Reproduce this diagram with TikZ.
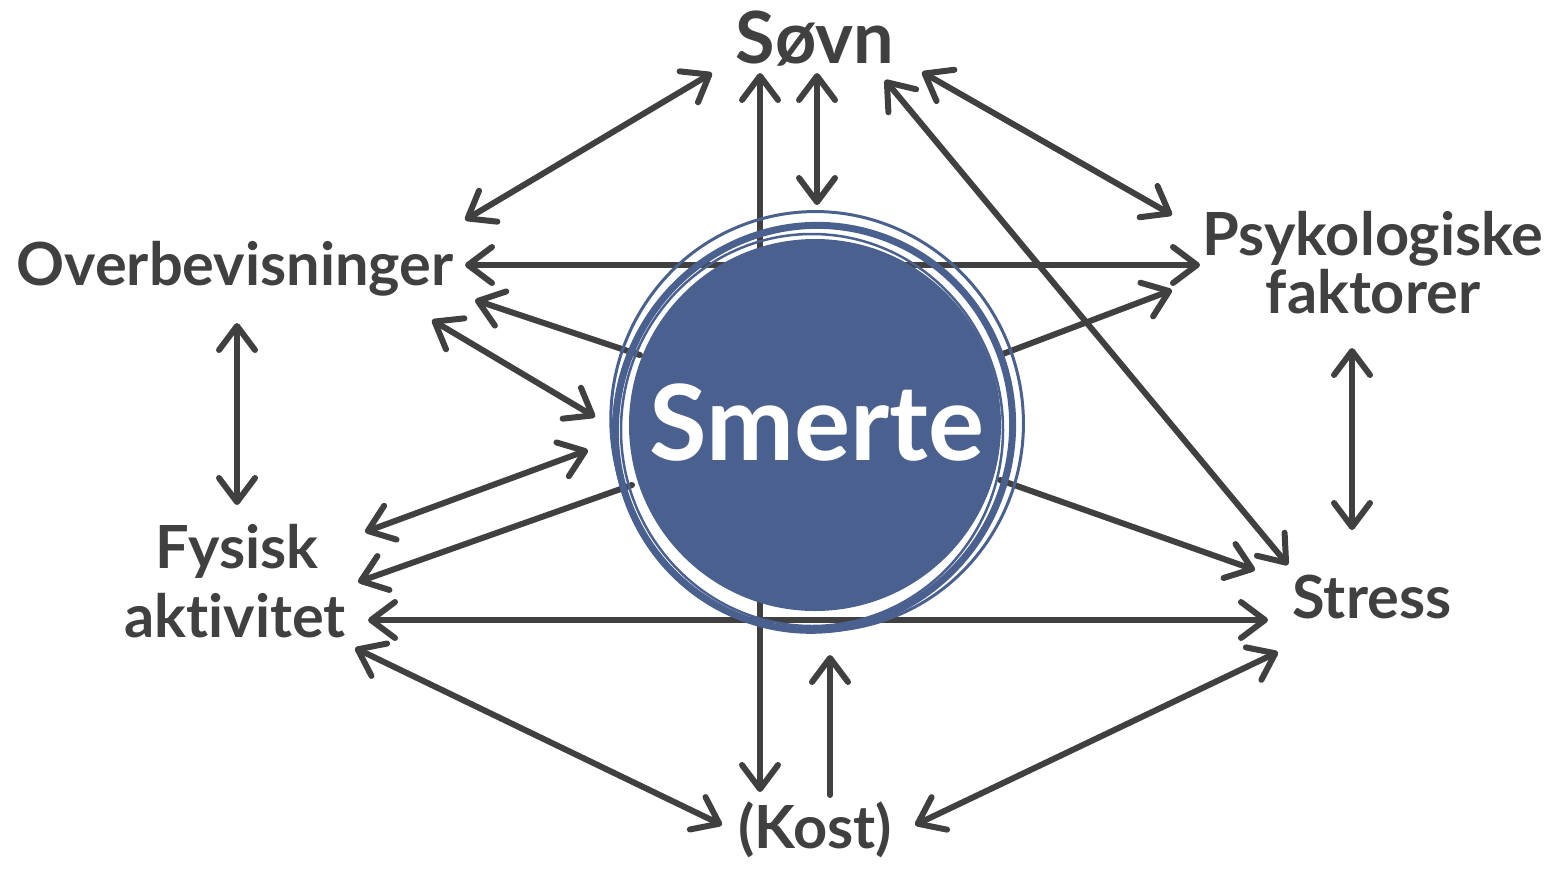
\documentclass[tikz,border=0pt]{standalone}
\usepackage{fontspec}
\setmainfont{Lato}[Ligatures=NoCommon]
\usetikzlibrary{arrows.meta,calc}
\definecolor{ink}{HTML}{404040}
\definecolor{smblue}{HTML}{4A6190}
\begin{document}
\begin{tikzpicture}[x=1pt,y=-1pt,
  lbl/.style={text=ink,font=\bfseries\fontsize{59.5}{62}\selectfont,inner sep=0pt,anchor=base},
  barb/.tip={Straight Barb[length=24pt,width=36pt,round]},
  link/.style={draw=ink,line width=6pt,line cap=round},
  both/.style={link,barb-barb},
  fwd/.style={link,-barb},
  ring/.style={draw=smblue}]
\useasboundingbox (0,0) rectangle (1553,871);
% labels
\node[lbl,font=\bfseries\fontsize{72}{76}\selectfont] (sovn) at (815,63) {Søvn};
\node[lbl] (overb) at (235,285) {Overbevisninger};
\node[lbl] (psyk) at (1373,255) {Psykologiske};
\node[lbl] (psyk2) at (1373,313) {faktorer};
\node[lbl] (fys) at (237,568) {Fysisk};
\node[lbl] (fys2) at (235,637) {aktivitet};
\node[lbl] (stress) at (1372,618) {Stress};
\node[lbl] (kost) at (815,848) {(Kost)};
\coordinate (smc) at (815,425);
% connectors
\draw[both] ($(overb.base)+(230,-65)$) -- ($(sovn.base)+(-103,10)$);
\draw[both] ($(sovn.base)+(-55,10)$) -- ($(kost.base)+(-55,-56)$);
\draw[both] ($(sovn.base)+(2,10)$) -- ($(smc)+(2,-220)$);
\draw[both] ($(sovn.base)+(70,17)$) -- ($(stress.base)+(-84,-53)$);
\draw[both] ($(sovn.base)+(107,9)$) -- ($(psyk.base)+(-201,-40)$);
\draw[both] ($(overb.base)+(230,-20)$) -- ($(psyk.base)+(-173,10)$);
\draw[fwd] ($(smc)+(-175,-70)$) -- ($(overb.base)+(240,15)$);
\draw[both] ($(overb.base)+(197,35)$) -- ($(smc)+(-220,-8)$);
\draw[fwd] ($(smc)+(185,-70)$) -- ($(psyk2.base)+(-201,-23)$);
\draw[both] ($(overb.base)+(2,38)$) -- ($(fys.base)+(0,-63)$);
\draw[both] ($(fys.base)+(128,-36)$) -- ($(smc)+(-227,25)$);
\draw[fwd] ($(smc)+(-183,60)$) -- ($(fys2.base)+(123,-55)$);
\draw[both] ($(fys2.base)+(133,-17)$) -- ($(stress.base)+(-104,2)$);
\draw[fwd] ($(smc)+(185,55)$) -- ($(stress.base)+(-117,-48)$);
\draw[both] ($(psyk2.base)+(-21,35)$) -- ($(stress.base)+(-20,-88)$);
\draw[both] ($(fys2.base)+(120,11)$) -- ($(kost.base)+(-93,-23)$);
\draw[both] ($(kost.base)+(100,-23)$) -- ($(stress.base)+(-94,34)$);
\draw[fwd] ($(kost.base)+(15,-53)$) -- ($(smc)+(15,230)$);
% central disc with brush rings
\fill[smblue] (smc) circle (186);
\draw[ring,line width=7pt,rotate around={-20:(smc)}] ($(smc)+(0,3)$) ellipse [x radius=198, y radius=203];
\draw[ring,line width=3pt,rotate around={15:(smc)}] ($(smc)+(3,-3)$) ellipse [x radius=206, y radius=210];
\draw[ring,line width=2.5pt] ($(smc)+(-3,5)$) ellipse [x radius=191, y radius=196];
\node[text=white,font=\bfseries\fontsize{105}{110}\selectfont,inner sep=0pt,anchor=base] (smerte) at (817,460) {Smerte};
\end{tikzpicture}
\end{document}
